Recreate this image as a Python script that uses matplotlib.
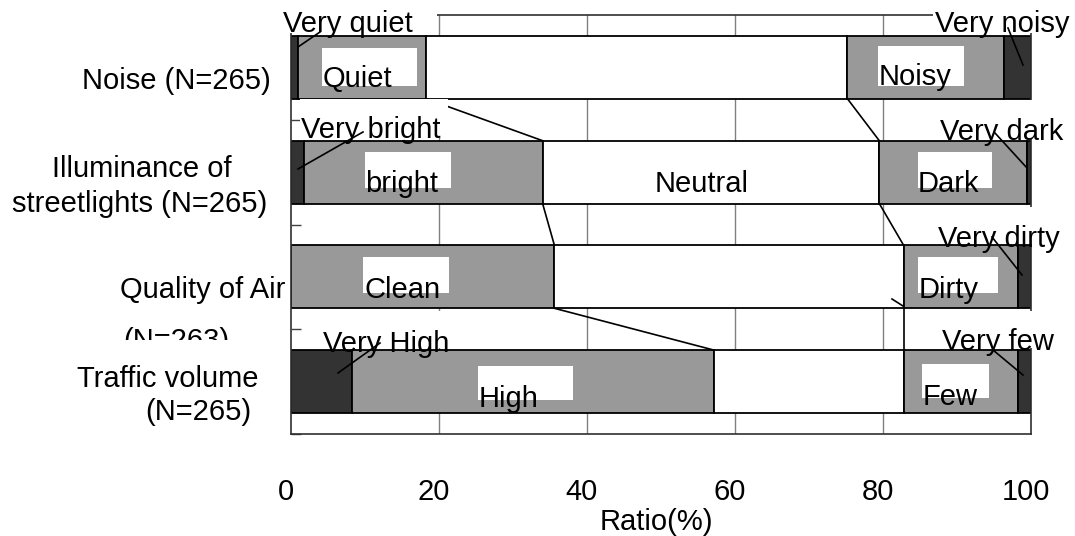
import matplotlib
matplotlib.use("Agg")
import matplotlib.pyplot as plt
import matplotlib.transforms as mtransforms
from matplotlib.patches import Rectangle
from matplotlib.lines import Line2D
import numpy as np

plt.rcParams['font.family'] = ['Liberation Sans', 'DejaVu Sans']

# ---------------- data ----------------
categories = [["Noise (N=265)"],
              ["Illuminance of", "streetlights (N=265)"],
              ["Quality of Air", "(N=263)"],
              ["Traffic volume", "(N=265)"]]
very_positive = [1.0, 1.8, 0.0, 8.3]     # Very quiet / Very bright / Very clean / Very High
positive      = [17.3, 32.2, 35.6, 48.9] # Quiet / bright / Clean / High
neutral       = [56.9, 45.5, 47.2, 25.6]
negative      = [21.2, 19.9, 15.4, 15.4] # Noisy / Dark / Dirty / Few
very_negative = [3.6, 0.6, 1.8, 1.8]     # Very noisy / Very dark / Very dirty / Very few
x_ticks = [0, 20, 40, 60, 80, 100]
x_label = "Ratio(%)"

# ---------------- layout / style ----------------
W, H = 1075, 536
FS = 21
series = [very_positive, positive, neutral, negative, very_negative]
colors = ['#333333', '#999999', '#ffffff', '#999999', '#333333']

fig = plt.figure(figsize=(W / 100, H / 100), dpi=100)
ax = fig.add_axes([291 / W, 1 - 434 / H, 740 / W, 419 / H])
pix = mtransforms.Affine2D().scale(1, -1).translate(0, H)  # pixel coords from top-left

ypos = np.arange(len(categories))
bar_h = 0.6
left = np.zeros(len(categories))
bounds = []
for vals, col in zip(series, colors):
    vals = np.array(vals)
    ax.barh(ypos, vals, left=left, height=bar_h, color=col,
            edgecolor='black', linewidth=1.3, zorder=2)
    left = left + vals
    bounds.append(left.copy())

# series lines (connecting boundaries between adjacent bars)
for b in bounds[1:3]:
    for i in range(len(categories) - 1):
        ax.plot([b[i], b[i + 1]], [i + bar_h / 2, i + 1 - bar_h / 2],
                color='black', lw=1.2, zorder=3, solid_capstyle='butt')

for v in x_ticks[1:-1]:
    ax.axvline(v, color='#808080', lw=1.0, zorder=0.5)

ax.set_xlim(0, 100)
ax.set_ylim(len(categories) - 0.5, -0.5)
ax.set_xticks(x_ticks)
ax.tick_params(axis='x', length=0, labelbottom=False)
ax.set_yticks(np.arange(len(categories)) + 0.5)
ax.tick_params(axis='y', direction='in', length=7, width=1.0, color='#404040',
               labelleft=False)
for s in ax.spines.values():
    s.set_color('#303030')
    s.set_linewidth(1.2)

# x tick labels and axis title
xt = mtransforms.blended_transform_factory(ax.transData, pix) + \
    mtransforms.Affine2D().translate(-5, 0)
for v in x_ticks:
    ax.text(v, 500, str(v), transform=xt, ha='center', va='baseline',
            fontsize=FS, clip_on=False)
ax.text(50, 530, x_label, transform=xt, ha='center', va='baseline',
        fontsize=FS, clip_on=False)

# category labels (left side)
cat_layout = [[(82, 89)],
              [(52, 177), (12, 212)],
              [(120, 298), (123, 349)],
              [(77, 387), (145, 420)]]
cat_boxes = {3: (76, 340, 262, 386)}
z = 3.0
for ci, (lines, pos) in enumerate(zip(categories, cat_layout)):
    if ci in cat_boxes:
        x0, y0, x1, y1 = cat_boxes[ci]
        fig.add_artist(Rectangle((x0, y0), x1 - x0, y1 - y0, transform=pix,
                                 facecolor='white', edgecolor='none', zorder=z))
        z += 0.01
    for s, (px, py) in zip(lines, pos):
        fig.text(px, py, s, transform=pix, ha='left', va='baseline',
                 fontsize=FS, zorder=z)
        z += 0.01

# segment labels: (text, left px, baseline px, white box)
seg_labels = [
    ("Very quiet", 283, 32, (282, -5, 437, 33)),
    ("Quiet", 323, 87, (322, 48, 417, 86)),
    ("Noisy", 879, 85, (878, 46, 964, 86)),
    ("Very noisy", 935, 32, (933, -5, 1075, 33)),
    ("Very bright", 301, 138, (300, 99, 448, 137)),
    ("bright", 365, 192, (365, 152, 451, 188)),
    ("Neutral", 655, 192, None),
    ("Dark", 918, 192, (918, 152, 992, 188)),
    ("Very dark", 940, 140, (939, 100, 1075, 138)),
    ("Clean", 365, 298, (363, 257, 449, 293)),
    ("Dirty", 919, 298, (918, 257, 998, 293)),
    ("Very dirty", 938, 247, (937, 207, 1075, 244)),
    ("Very High", 323, 352, (322, 311, 488, 348)),
    ("High", 479, 407, (478, 366, 573, 400)),
    ("Few", 923, 405, (922, 364, 989, 398)),
    ("Very few", 942, 350, (941, 311, 1075, 348)),
]
for s, px, py, box in seg_labels:
    if box is not None:
        x0, y0, x1, y1 = box
        fig.add_artist(Rectangle((x0, y0), x1 - x0, y1 - y0, transform=pix,
                                 facecolor='white', edgecolor='none', zorder=z))
        z += 0.01
    fig.text(px, py, s, transform=pix, ha='left', va='baseline',
             fontsize=FS, zorder=z)
    z += 0.01

# leader lines
leaders = [((320, 32), (298, 47)),
           ((1008, 28), (1023, 65)),
           ((363, 132), (298, 169)),
           ((995, 133), (1027, 168)),
           ((992, 237), (1022, 275)),
           ((380, 343), (338, 373)),
           ((993, 350), (1023, 375)),
           ((892, 299), (903, 306))]
for (xa, ya), (xb, yb) in leaders:
    fig.add_artist(Line2D([xa, xb], [ya, yb], transform=pix, color='black',
                          lw=1.2, zorder=10))

fig.savefig("out.png", dpi=100)
